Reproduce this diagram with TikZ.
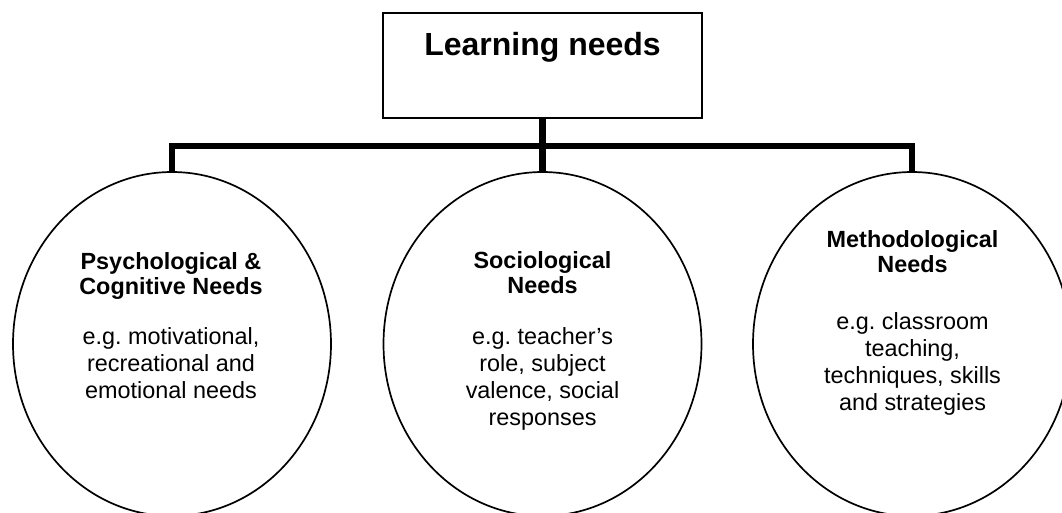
\documentclass[tikz,border=0pt]{standalone}
\usepackage{fontspec}
\setmainfont{Liberation Sans}
\usetikzlibrary{shapes.geometric}
\frenchspacing

\tikzset{
  rootbox/.style={draw, line width=1.5pt, rectangle, inner sep=0pt,
    minimum width=319pt, text height=42pt, text depth=63pt,
    font=\fontsize{32}{36}\selectfont\bfseries},
  needcircle/.style={draw, line width=1.7pt, ellipse, inner sep=0pt,
    minimum width=318pt, minimum height=344pt},
  % multi-line nodes: the base anchor sits on the last line's baseline
  needtitle/.style={anchor=base, align=center, inner sep=0pt,
    font=\fontsize{23.4}{25}\selectfont\bfseries},
  needtext/.style={anchor=base, align=center, inner sep=0pt,
    font=\fontsize{23.4}{27}\selectfont},
  conn/.style={line width=6.5pt, line join=miter, line cap=butt}
}

\begin{document}
\begin{tikzpicture}[x=1pt, y=-1pt]
  \useasboundingbox (0,0) rectangle (1062,512);

  % top box
  \node[rootbox] (root) at (542.5,65.5) {Learning needs};

  % the three branches
  \node[needcircle] (psy) at (172,344) {};
  \node[needcircle] (soc) at (542.5,344) {};
  \node[needcircle] (met) at (912,344) {};

  % tree connectors
  \coordinate (hub) at (542.5,146);
  \draw[conn] (root.south) -- (soc.north);
  \draw[conn] (psy.north) |- (hub) -| (met.north);

  % texts inside the circles
  \node[needtitle] (psyt) at (171,294) {Psychological \&\\Cognitive Needs};
  \node[needtext]  (psyd) at (171,398) {e.g. motivational,\\recreational and\\emotional needs};

  \node[needtitle] (soct) at (542.5,293) {Sociological\\Needs};
  \node[needtext]  (socd) at (542.5,425) {e.g. teacher’s\\role, subject\\valence, social\\responses};

  \node[needtitle] (mett) at (912.5,272) {Methodological\\Needs};
  \node[needtext]  (metd) at (912.5,410) {e.g. classroom\\teaching,\\techniques, skills\\and strategies};
\end{tikzpicture}
\end{document}
